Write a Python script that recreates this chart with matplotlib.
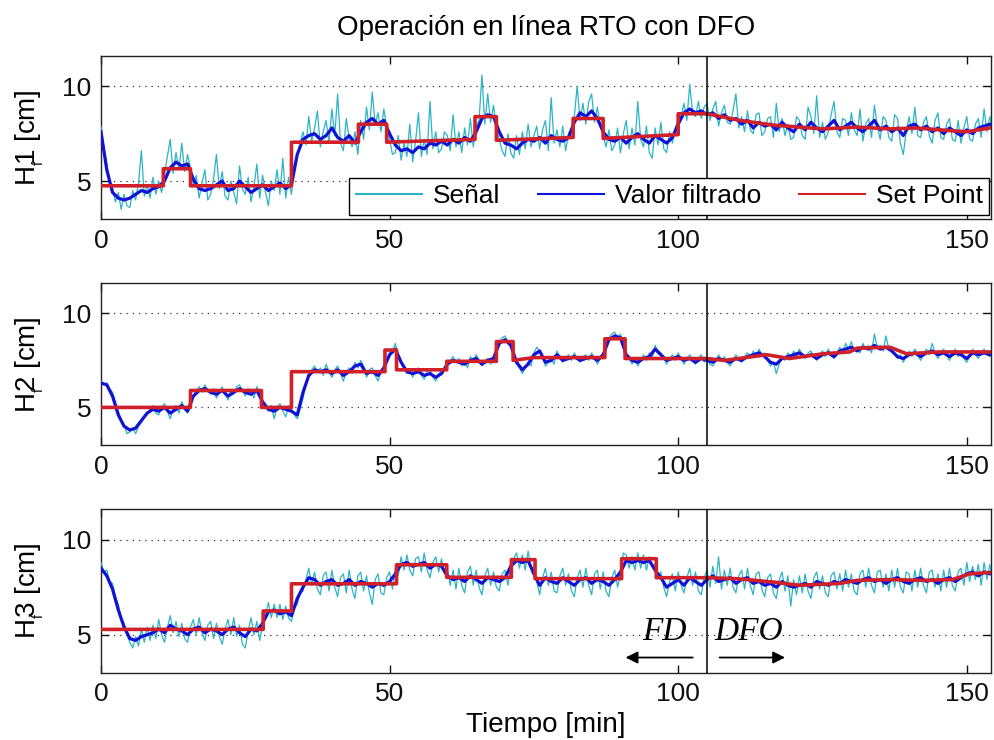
import numpy as np
import matplotlib
matplotlib.use("Agg")
import matplotlib.pyplot as plt

plt.rcParams["font.family"] = ["Liberation Sans", "DejaVu Sans"]
plt.rcParams["mathtext.fontset"] = "custom"
plt.rcParams["mathtext.rm"] = "Liberation Sans"

# ---------------------------------------------------------------------------
# Data: tank levels [cm]. Raw signal sampled every 0.5 min, filtered value
# every 1 min, set point given as (time, value) breakpoints.
# ---------------------------------------------------------------------------
SIGNAL_DT = 0.5
FILTER_DT = 1.0
SWITCH_TIME = 105.0          # change from FD to DFO [min]

h1_signal = [
    7.9, 6.8, 5.9, 5.0, 4.6, 3.9, 4.4, 3.5, 4.3, 3.7, 3.6, 4.5, 4.0, 4.9, 6.6, 4.2, 4.8, 4.1, 5.2, 4.3,
    5.0, 4.4, 5.3, 6.3, 7.2, 5.4, 6.5, 5.6, 7.0, 5.5, 6.4, 5.7, 4.8, 5.3, 4.1, 4.9, 5.6, 4.0, 4.3, 5.1,
    6.4, 4.6, 5.5, 4.2, 4.0, 5.0, 4.4, 3.8, 5.8, 4.6, 4.3, 5.2, 3.9, 4.7, 5.9, 4.1, 5.3, 4.4, 3.7, 5.0,
    4.5, 5.6, 4.3, 6.2, 4.1, 5.2, 4.3, 5.9, 6.3, 7.0, 7.6, 6.9, 8.4, 7.1, 7.8, 8.7, 6.8, 7.6, 8.2, 7.0,
    8.8, 7.4, 9.6, 7.0, 6.6, 8.3, 7.2, 6.8, 7.6, 6.4, 8.2, 7.2, 8.9, 7.7, 9.7, 8.0, 8.6, 7.6, 8.8, 7.9,
    7.2, 6.4, 6.5, 7.4, 6.1, 7.0, 6.3, 8.0, 6.0, 7.1, 8.6, 6.3, 7.2, 6.4, 9.2, 6.7, 7.6, 6.5, 6.7, 7.6,
    7.4, 6.6, 8.5, 6.8, 7.6, 6.5, 7.8, 6.9, 8.3, 6.8, 7.9, 8.2, 10.6, 8.0, 9.6, 8.1, 9.0, 7.8, 7.2, 6.6,
    6.3, 7.5, 6.5, 6.2, 7.4, 6.4, 7.6, 6.7, 8.0, 6.8, 7.4, 7.9, 6.7, 7.7, 8.2, 6.6, 9.4, 7.0, 7.7, 6.8,
    7.9, 6.6, 7.5, 7.8, 8.4, 10.0, 8.2, 9.1, 8.0, 9.2, 9.6, 8.1, 8.9, 7.9, 7.4, 6.8, 7.7, 6.6, 6.9, 7.8,
    6.5, 7.5, 8.2, 6.7, 7.8, 6.9, 9.2, 7.2, 6.8, 7.9, 6.5, 6.2, 7.8, 6.9, 8.1, 6.7, 6.5, 7.6, 7.0, 7.8,
    8.2, 8.4, 9.1, 8.2, 10.1, 8.6, 8.4, 9.2, 8.3, 8.9, 9.1, 8.2, 8.8, 9.2, 7.9, 8.6, 9.0, 8.1, 8.0, 8.7,
    9.6, 7.8, 8.4, 7.6, 8.7, 7.7, 7.5, 8.5, 8.6, 7.4, 7.6, 8.3, 8.4, 7.3, 9.1, 7.6, 8.3, 7.4, 8.0, 7.2,
    7.3, 8.4, 8.2, 7.4, 7.2, 8.9, 8.4, 7.5, 9.5, 7.3, 8.1, 7.2, 7.6, 8.5, 9.2, 7.6, 7.3, 8.3, 8.2, 7.4,
    8.6, 7.7, 7.4, 8.8, 7.1, 8.0, 8.3, 7.3, 9.0, 7.9, 7.2, 8.4, 8.2, 7.3, 7.1, 8.5, 8.3, 7.0, 6.4, 7.6,
    8.4, 7.5, 8.9, 7.4, 7.3, 8.1, 8.4, 7.4, 7.0, 8.2, 8.6, 7.3, 7.2, 8.0, 8.3, 7.2, 7.1, 8.2, 7.0, 7.8,
    8.4, 7.2, 7.1, 8.0, 8.3, 7.3, 8.8, 7.6, 8.4, 7.6, 8.2,
]
h1_filtered = [
    7.6, 5.6, 4.4, 4.1, 4.0, 4.1, 4.3, 4.5, 4.4, 4.6,
    4.7, 5.0, 5.7, 6.0, 5.8, 5.9, 5.1, 4.6, 4.5, 4.6,
    4.8, 5.0, 4.5, 4.6, 5.0, 4.7, 4.4, 4.6, 4.8, 4.5,
    4.7, 4.9, 4.6, 4.8, 6.4, 7.2, 7.4, 7.5, 7.2, 7.4,
    7.8, 7.3, 7.1, 7.4, 7.0, 7.6, 8.1, 8.3, 8.0, 8.2,
    7.5, 6.9, 6.6, 6.7, 6.5, 6.8, 6.7, 7.0, 6.9, 7.1,
    6.9, 7.2, 7.0, 7.3, 7.1, 7.6, 8.3, 8.5, 8.4, 7.6,
    7.0, 6.9, 6.7, 7.0, 7.2, 7.1, 7.3, 7.0, 7.4, 7.2,
    7.1, 7.3, 8.1, 8.6, 8.4, 8.7, 8.3, 7.6, 7.2, 7.1,
    7.3, 7.0, 7.3, 7.5, 7.2, 7.0, 7.4, 7.2, 7.0, 7.3,
    8.0, 8.6, 8.8, 8.6, 8.7, 8.5, 8.6, 8.3, 8.5, 8.2,
    8.3, 8.0, 8.2, 7.8, 8.1, 7.9, 8.0, 7.7, 8.1, 7.8,
    7.6, 8.0, 7.7, 8.1, 7.8, 7.6, 7.9, 8.2, 7.7, 7.9,
    8.1, 7.8, 7.6, 7.9, 8.2, 7.7, 7.9, 7.6, 7.8, 7.4,
    7.9, 8.0, 7.7, 7.9, 7.6, 7.8, 7.5, 7.8, 7.6, 7.4,
    7.7, 7.5, 7.8, 7.9, 8.0, 7.9,
]
h1_sp_time = [0, 10.8, 10.8, 15.5, 15.5, 33.0, 33.0, 44.6, 44.6, 49.5, 49.5, 64.8, 64.8,
              68.5, 68.5, 81.8, 81.8, 87.0, 87.0, 100.0, 100.0, 105.0, 110.7, 116.5,
              125.1, 130.9, 136.7, 141.3, 145.3, 150.0, 155.0]
h1_sp_value = [4.75, 4.75, 5.65, 5.65, 4.75, 4.75, 7.05, 7.05, 8.0, 8.0, 7.05, 7.2, 8.4,
               8.4, 7.15, 7.3, 8.3, 8.3, 7.25, 7.45, 8.55, 8.55, 8.2, 7.95,
               7.75, 7.85, 7.75, 7.8, 7.7, 7.6, 7.85]

h2_signal = [
    6.4, 6.2, 6.3, 6.0, 5.8, 5.3, 4.8, 4.3, 4.1, 3.6, 3.7, 3.9, 3.6, 4.0, 4.2, 4.5, 4.6, 4.9, 5.1, 4.7,
    4.6, 5.0, 5.2, 4.8, 4.4, 4.9, 5.1, 4.7, 5.3, 4.9, 4.7, 5.1, 5.6, 5.9, 6.1, 5.8, 6.2, 5.9, 5.7, 6.0,
    5.5, 5.8, 6.1, 5.7, 5.4, 5.9, 5.7, 6.1, 6.2, 5.9, 5.6, 6.0, 5.8, 5.5, 6.1, 5.8, 5.2, 5.0, 4.8, 5.1,
    4.4, 5.0, 5.2, 4.8, 4.5, 5.1, 4.9, 4.6, 4.4, 4.9, 5.5, 6.2, 6.6, 7.0, 7.2, 6.9, 7.1, 6.7, 7.3, 6.9,
    6.6, 7.0, 7.2, 6.8, 6.4, 6.9, 7.1, 6.8, 7.4, 7.1, 7.5, 7.2, 6.6, 7.0, 7.1, 6.7, 6.4, 6.9, 7.2, 7.5,
    7.9, 8.0, 8.4, 7.8, 7.5, 7.1, 6.8, 7.0, 6.6, 7.0, 7.1, 6.7, 6.5, 6.9, 7.0, 6.6, 6.4, 6.8, 6.9, 7.1,
    7.2, 7.5, 7.7, 7.4, 7.6, 7.2, 7.5, 7.1, 7.7, 7.4, 7.8, 7.5, 7.2, 7.5, 7.6, 7.3, 7.5, 8.0, 8.5, 8.7,
    8.8, 8.5, 8.4, 7.9, 7.3, 7.1, 6.8, 7.1, 7.4, 7.2, 7.9, 8.2, 8.0, 7.7, 7.2, 7.4, 7.6, 7.3, 8.0, 7.7,
    7.4, 7.6, 7.8, 7.5, 7.9, 7.6, 7.4, 7.7, 7.8, 7.5, 7.9, 7.6, 7.3, 7.6, 7.9, 8.3, 8.7, 8.9, 9.0, 8.7,
    8.9, 8.5, 7.9, 7.6, 7.3, 7.6, 7.2, 7.5, 7.8, 7.5, 7.9, 7.6, 8.3, 8.0, 7.9, 7.6, 7.3, 7.6, 7.8, 7.5,
    7.9, 7.6, 7.3, 7.6, 7.8, 7.5, 7.3, 7.6, 7.8, 7.4, 7.6, 7.3, 7.2, 7.5, 7.8, 7.5, 7.7, 7.4, 7.2, 7.5,
    7.8, 7.5, 7.4, 7.7, 7.9, 7.6, 8.0, 7.7, 8.1, 7.8, 7.9, 7.5, 7.2, 7.4, 6.8, 7.3, 7.7, 7.5, 7.9, 7.6,
    8.0, 7.7, 8.1, 7.8, 7.6, 7.9, 8.0, 7.7, 7.5, 7.8, 8.0, 7.7, 8.1, 7.8, 7.6, 7.9, 8.2, 7.9, 8.4, 8.1,
    8.5, 8.0, 8.2, 7.9, 8.4, 8.1, 8.3, 7.9, 8.9, 8.2, 8.3, 8.0, 8.8, 8.1, 8.2, 7.8, 7.6, 7.8, 7.4, 7.7,
    8.0, 7.7, 8.1, 7.8, 7.5, 7.8, 8.1, 7.8, 8.4, 7.9, 7.6, 7.9, 8.1, 7.8, 7.5, 7.8, 8.1, 7.7, 8.0, 7.6,
    7.4, 7.7, 8.1, 7.8, 7.6, 7.9, 8.1, 7.8, 7.7, 7.9, 8.0,
]
h2_filtered = [
    6.3, 6.2, 5.6, 4.6, 4.0, 3.8, 3.9, 4.3, 4.7, 4.9,
    4.8, 5.0, 4.7, 4.9, 5.1, 4.8, 5.6, 5.9, 6.0, 5.8,
    5.7, 5.9, 5.6, 5.8, 6.0, 5.8, 5.7, 5.9, 5.3, 4.9,
    4.8, 5.0, 4.9, 4.8, 4.6, 5.8, 6.7, 7.0, 6.9, 7.0,
    6.8, 7.0, 6.7, 6.9, 7.2, 7.3, 6.8, 6.9, 6.7, 7.1,
    7.8, 8.1, 7.4, 6.9, 6.8, 6.9, 6.7, 6.8, 6.6, 6.8,
    7.3, 7.5, 7.4, 7.3, 7.5, 7.6, 7.3, 7.5, 7.6, 8.4,
    8.6, 8.3, 7.4, 7.0, 7.3, 7.8, 8.0, 7.4, 7.5, 7.8,
    7.5, 7.6, 7.7, 7.5, 7.6, 7.7, 7.5, 7.8, 8.6, 8.8,
    8.7, 7.8, 7.5, 7.4, 7.6, 7.7, 8.1, 7.8, 7.5, 7.6,
    7.7, 7.5, 7.6, 7.4, 7.6, 7.5, 7.4, 7.6, 7.5, 7.4,
    7.6, 7.5, 7.7, 7.8, 7.9, 7.7, 7.4, 7.3, 7.6, 7.7,
    7.8, 7.9, 7.7, 7.8, 7.6, 7.8, 7.9, 7.7, 8.0, 8.1,
    8.2, 8.0, 8.2, 8.1, 8.3, 8.1, 8.2, 8.0, 7.7, 7.6,
    7.8, 7.9, 7.7, 7.9, 8.0, 7.8, 7.9, 7.7, 7.9, 7.8,
    7.6, 7.9, 7.8, 7.9, 7.8, 7.9,
]
h2_sp_time = [0, 15.5, 15.5, 27.8, 27.8, 33.0, 33.0, 49.2, 49.2, 51.2, 51.2, 59.9, 59.9,
              68.5, 68.5, 71.4, 71.4, 75.0, 87.3, 87.3, 90.8, 90.8, 105.0, 108.0, 115.3,
              119.3, 125.1, 129.7, 131.0, 136.7, 139.6, 145.3, 155.0]
h2_sp_value = [5.0, 5.0, 5.9, 5.9, 5.0, 5.0, 6.9, 6.9, 8.05, 8.05, 7.0, 7.0, 7.45,
               7.45, 8.5, 8.5, 7.5, 7.65, 7.65, 8.65, 8.65, 7.6, 7.6, 7.5, 7.8,
               7.6, 7.85, 7.95, 8.15, 8.2, 7.85, 7.95, 7.95]

h3_signal = [
    8.8, 8.3, 8.4, 7.8, 7.7, 7.0, 6.6, 5.9, 5.6, 5.0, 4.6, 4.3, 4.9, 4.4, 5.3, 4.6, 5.4, 4.7, 5.5, 4.8,
    5.8, 5.0, 4.6, 5.4, 6.0, 5.1, 5.7, 4.9, 5.6, 4.8, 4.6, 5.4, 5.8, 5.0, 5.9, 5.1, 4.7, 5.5, 5.7, 4.8,
    5.6, 4.9, 4.5, 5.3, 5.8, 5.0, 5.9, 4.9, 5.5, 4.5, 4.3, 5.2, 5.9, 5.0, 5.7, 4.7, 5.5, 6.0, 6.7, 5.9,
    6.6, 5.9, 6.6, 5.8, 6.5, 5.9, 5.7, 6.4, 6.6, 7.2, 7.3, 7.9, 8.5, 7.6, 8.3, 7.4, 7.1, 8.1, 8.3, 7.3,
    8.4, 7.5, 7.0, 8.0, 8.2, 7.2, 8.4, 7.4, 6.9, 8.1, 8.3, 7.3, 8.1, 7.2, 6.6, 7.9, 8.2, 7.2, 7.1, 8.0,
    8.3, 7.4, 8.5, 8.1, 9.1, 8.4, 9.2, 8.4, 8.1, 9.0, 9.1, 8.3, 9.3, 8.4, 8.0, 8.8, 9.1, 8.3, 9.0, 8.2,
    8.5, 7.6, 8.4, 7.4, 8.5, 7.6, 7.2, 8.3, 8.6, 7.6, 8.4, 7.5, 7.1, 8.1, 8.5, 7.6, 8.3, 7.5, 7.3, 8.2,
    8.4, 7.6, 8.7, 9.0, 9.3, 8.5, 9.2, 8.4, 9.4, 8.5, 8.5, 7.8, 7.1, 8.0, 8.5, 7.6, 8.3, 7.3, 7.2, 8.1,
    8.5, 7.6, 8.2, 7.3, 7.0, 8.0, 8.4, 7.5, 8.5, 7.6, 7.1, 8.2, 8.4, 7.4, 8.3, 7.3, 7.0, 8.0, 8.4, 7.5,
    8.2, 9.3, 9.2, 8.5, 9.1, 8.4, 9.3, 8.5, 9.2, 8.4, 9.1, 8.6, 8.7, 8.0, 8.3, 7.5, 7.0, 7.8, 8.2, 7.3,
    8.3, 7.6, 7.2, 8.0, 8.5, 7.6, 8.3, 7.3, 7.1, 8.0, 8.4, 7.5, 8.6, 7.7, 9.1, 7.4, 8.4, 7.6, 8.5, 7.5,
    7.2, 8.1, 8.4, 7.4, 8.5, 7.6, 7.1, 8.2, 8.3, 7.4, 7.0, 8.0, 8.2, 7.2, 6.9, 7.9, 8.3, 7.3, 8.1, 6.5,
    7.9, 7.1, 8.1, 7.2, 8.2, 7.3, 6.9, 8.0, 8.3, 7.4, 8.1, 7.2, 7.0, 8.1, 8.3, 7.4, 8.2, 7.3, 8.4, 7.5,
    8.2, 7.3, 7.1, 8.2, 8.4, 7.5, 8.5, 7.6, 7.2, 8.3, 8.4, 7.5, 8.2, 7.3, 8.4, 7.5, 8.5, 7.5, 7.2, 8.3,
    8.2, 7.3, 8.4, 7.5, 8.5, 7.6, 7.2, 8.3, 8.4, 7.5, 8.2, 7.3, 8.4, 7.5, 8.5, 7.6, 7.3, 8.3, 8.5, 7.6,
    8.8, 7.8, 8.6, 7.9, 8.7, 7.6, 8.8, 7.9, 8.7, 7.8, 8.8,
]
h3_filtered = [
    8.5, 8.1, 7.4, 6.3, 5.4, 4.8, 4.7, 4.9, 5.0, 5.1,
    5.3, 5.1, 5.5, 5.3, 5.2, 5.0, 5.3, 5.4, 5.1, 5.3,
    5.2, 5.0, 5.3, 5.4, 5.1, 4.9, 5.3, 5.2, 5.6, 6.2,
    6.3, 6.1, 6.2, 6.0, 6.9, 7.5, 8.0, 7.9, 7.6, 7.8,
    7.9, 7.6, 7.7, 7.9, 7.6, 7.8, 7.7, 7.5, 7.7, 7.6,
    7.8, 8.2, 8.7, 8.8, 8.6, 8.7, 8.8, 8.5, 8.7, 8.6,
    8.1, 7.9, 8.0, 7.8, 8.1, 7.9, 7.7, 8.0, 7.9, 7.8,
    8.0, 8.6, 8.9, 8.8, 8.9, 8.2, 7.6, 8.0, 7.8, 7.7,
    8.0, 7.8, 7.6, 7.9, 8.0, 7.7, 7.9, 7.8, 7.6, 7.9,
    8.3, 8.9, 8.8, 8.9, 8.8, 8.9, 8.4, 8.0, 7.5, 7.7,
    7.9, 7.6, 8.0, 7.8, 7.6, 7.9, 8.1, 7.8, 7.9, 8.0,
    7.7, 7.9, 8.0, 7.7, 7.8, 7.6, 7.7, 7.5, 7.8, 7.6,
    7.5, 7.6, 7.7, 7.5, 7.8, 7.7, 7.6, 7.8, 7.7, 7.9,
    7.8, 7.7, 7.9, 8.0, 7.8, 7.9, 7.7, 7.9, 8.0, 7.8,
    7.7, 7.9, 8.0, 7.8, 7.9, 7.7, 7.9, 8.0, 7.8, 8.0,
    8.2, 8.3, 8.1, 8.3, 8.2, 8.3,
]
h3_sp_time = [0, 28.1, 28.1, 33.0, 33.0, 51.2, 51.2, 59.9, 59.9, 71.1, 71.1, 75.2, 75.2,
              90.2, 90.2, 96.2, 96.2, 105.0, 110.0, 116.5, 121.0, 128.0, 131.0, 136.7,
              142.4, 147.5, 150.5, 155.0]
h3_sp_value = [5.28, 5.28, 6.25, 6.25, 7.68, 7.68, 8.68, 8.68, 8.02, 8.02, 8.95, 8.95, 7.95,
               7.95, 9.0, 9.0, 8.0, 8.0, 7.95, 7.77, 7.6, 7.7, 7.86, 7.9,
               7.86, 7.9, 8.2, 8.3]

y_labels = [r"H$_{_{\mathregular{f}}}\!\mathregular{1}$ [cm]",
            r"H$_{_{\mathregular{f}}}\!\mathregular{2}$ [cm]",
            r"H$_{_{\mathregular{f}}}\!\mathregular{3}$ [cm]"]
series_names = ["Señal", "Valor filtrado", "Set Point"]
x_ticks = [0, 50, 100, 150]
y_ticks = [5, 10]

# ---------------------------------------------------------------------------
C_SIGNAL = "#2cb4c6"
C_FILTER = "#1212d6"
C_SETPOINT = "#d0202a"
FS = 19

fig = plt.figure(figsize=(9.94, 7.4), dpi=100)
fig.patch.set_facecolor("white")
positions = [[0.1016, 0.7041, 0.8954, 0.2203],
             [0.1016, 0.3986, 0.8954, 0.2186],
             [0.1016, 0.0909, 0.8954, 0.2209]]

panels = [(h1_signal, h1_filtered, h1_sp_time, h1_sp_value),
          (h2_signal, h2_filtered, h2_sp_time, h2_sp_value),
          (h3_signal, h3_filtered, h3_sp_time, h3_sp_value)]

axes = []
for pos, (sig, fil, spt, spv), ylab in zip(positions, panels, y_labels):
    ax = fig.add_axes(pos)
    t_sig = np.arange(len(sig)) * SIGNAL_DT
    t_fil = np.arange(len(fil)) * FILTER_DT
    ax.plot(t_sig, sig, color=C_SIGNAL, lw=0.9, label=series_names[0], zorder=3)
    ax.plot(t_fil, fil, color=C_FILTER, lw=2.3, label=series_names[1], zorder=4)
    ax.plot(spt, spv, color=C_SETPOINT, lw=2.6, label=series_names[2], zorder=5)
    ax.axvline(SWITCH_TIME, color="black", lw=1.1, zorder=6)

    ax.set_xlim(0, 154.2)
    ax.set_ylim(3, 11.6)
    ax.set_xticks(x_ticks)
    ax.set_yticks(y_ticks)
    ax.tick_params(direction="in", top=True, right=True, length=6, width=1,
                   labelsize=FS, pad=7, colors="#111111")
    ax.yaxis.grid(True, linestyle=(0, (1, 4)), color="#333333", lw=0.9)
    ax.set_axisbelow(True)
    for sp in ax.spines.values():
        sp.set_linewidth(1.0)
        sp.set_color("#222222")
    ax.set_ylabel(ylab, fontsize=FS + 1)
    ax.yaxis.set_label_coords(-0.062, 0.5)
    axes.append(ax)

ax1, ax2, ax3 = axes
ax1.set_title("Operación en línea RTO con DFO", fontsize=20, pad=15)
ax3.set_xlabel("Tiempo [min]", fontsize=20, labelpad=4)

leg = ax1.legend(loc="lower right", bbox_to_anchor=(0.998, 0.025), ncol=3,
                 fontsize=FS, frameon=True, fancybox=False, framealpha=1,
                 edgecolor="black", handlelength=2.5, handletextpad=0.4,
                 columnspacing=1.45, borderpad=0.25, borderaxespad=0.0)
leg.get_frame().set_linewidth(1.0)
leg.set_zorder(10)
for line in leg.get_lines():
    line.set_linewidth(1.5)

# FD / DFO regions marked on the bottom panel
ax3.text(97.7, 4.7, "FD", fontsize=24, family="Liberation Serif", style="italic",
         ha="center", va="baseline", zorder=7)
ax3.text(112.2, 4.7, "DFO", fontsize=24, family="Liberation Serif", style="italic",
         ha="center", va="baseline", zorder=7)
ax3.annotate("", xy=(90.4, 3.8), xytext=(103.0, 3.8),
             arrowprops=dict(arrowstyle="-|>", color="black", lw=1.3, mutation_scale=18))
ax3.annotate("", xy=(119.0, 3.8), xytext=(106.7, 3.8),
             arrowprops=dict(arrowstyle="-|>", color="black", lw=1.3, mutation_scale=18))

fig.savefig("out.png", dpi=100, facecolor="white")
